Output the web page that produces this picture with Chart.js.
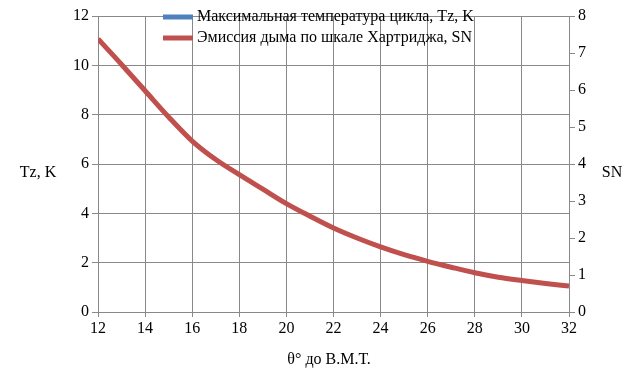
<!DOCTYPE html>
<html>
<head>
<meta charset="utf-8">
<script src="https://cdn.jsdelivr.net/npm/chart.js@4"></script>
<style>
  html, body { margin: 0; padding: 0; background: #fff; }
  #wrap { width: 639px; height: 389px; }
</style>
</head>
<body>
<div id="wrap"><canvas id="grafica" width="639" height="389"></canvas></div>
<script>
// ось X: угол θ° до В.М.Т.
const theta = [12, 13, 14, 15, 16, 17, 18, 19, 20, 21, 22, 23, 24, 25, 26, 27, 28, 29, 30, 31, 32];
// дымность SN (правая ось)
const snValues = [7.38, 6.69, 5.98, 5.27, 4.62, 4.12, 3.71, 3.32, 2.93, 2.59, 2.27, 2.00, 1.76, 1.55, 1.37, 1.21, 1.06, 0.94, 0.85, 0.77, 0.70];
// Tz на картинке не видна (за пределами шкалы)
const tzValues = [];

const leftTicks = [0, 2, 4, 6, 8, 10, 12];
const rightTicks = [0, 1, 2, 3, 4, 5, 6, 7, 8];

const seriesNames = ["Максимальная температура цикла, Tz, K", "Эмиссия дыма по шкале Хартриджа, SN"];
const seriesColors = ["#4F81BD", "#C0504D"];

const FONT = "16px 'Liberation Serif', 'Times New Roman', serif";
const gridColor = "#898989";

// подписи осей и легенда рисуем сами
const extras = {
  id: "extras",
  afterDraw(chart) {
    const ctx = chart.ctx;
    ctx.save();
    ctx.font = FONT;
    ctx.fillStyle = "#000";
    ctx.textAlign = "center";
    ctx.textBaseline = "middle";
    ctx.fillText("Tz, K", 38, 173);
    ctx.fillText("SN", 612, 173);
    ctx.fillText("θ° до В.М.Т.", 329, 360);

    ctx.textAlign = "left";
    seriesNames.forEach((name, i) => {
      const y = 17 + i * 21;
      ctx.strokeStyle = seriesColors[i];
      ctx.lineWidth = 5;
      ctx.beginPath();
      ctx.moveTo(163, y);
      ctx.lineTo(193, y);
      ctx.stroke();
      ctx.fillText(name, 197, y);
    });
    ctx.restore();
  }
};

new Chart(document.getElementById("grafica"), {
  type: "line",
  data: {
    labels: theta,
    datasets: [
      {
        label: seriesNames[0],
        data: tzValues.map((v, i) => ({ x: theta[i], y: v })),
        borderColor: seriesColors[0],
        borderWidth: 5,
        pointRadius: 0,
        yAxisID: "y",
      },
      {
        label: seriesNames[1],
        data: snValues.map((v, i) => ({ x: theta[i], y: v })),
        borderColor: seriesColors[1],
        borderWidth: 5,
        pointRadius: 0,
        cubicInterpolationMode: "monotone",
        yAxisID: "y1",
      },
    ],
  },
  options: {
    responsive: false,
    animation: false,
    layout: { padding: { top: 16, left: 0, right: 0, bottom: 0 } },
    plugins: { legend: { display: false }, tooltip: { enabled: false } },
    scales: {
      x: {
        type: "linear",
        min: 12,
        max: 32,
        ticks: { stepSize: 2, color: "#000", font: { family: "'Liberation Serif'", size: 16 }, padding: 2 },
        grid: { color: gridColor, tickLength: 5 },
        border: { color: gridColor },
        afterFit: s => { s.height = 77; },
      },
      y: {
        position: "left",
        min: leftTicks[0],
        max: leftTicks[leftTicks.length - 1],
        ticks: { stepSize: 2, color: "#000", font: { family: "'Liberation Serif'", size: 16 }, padding: 3 },
        grid: { color: gridColor, tickLength: 6 },
        border: { color: gridColor },
        afterFit: s => { s.width = 98; },
      },
      y1: {
        position: "right",
        min: rightTicks[0],
        max: rightTicks[rightTicks.length - 1],
        ticks: { stepSize: 1, color: "#000", font: { family: "'Liberation Serif'", size: 16 }, padding: 3 },
        grid: { drawOnChartArea: false, color: gridColor, tickLength: 6 },
        border: { color: gridColor },
        afterFit: s => { s.width = 70; },
      },
    },
  },
  plugins: [extras],
});
</script>
</body>
</html>
